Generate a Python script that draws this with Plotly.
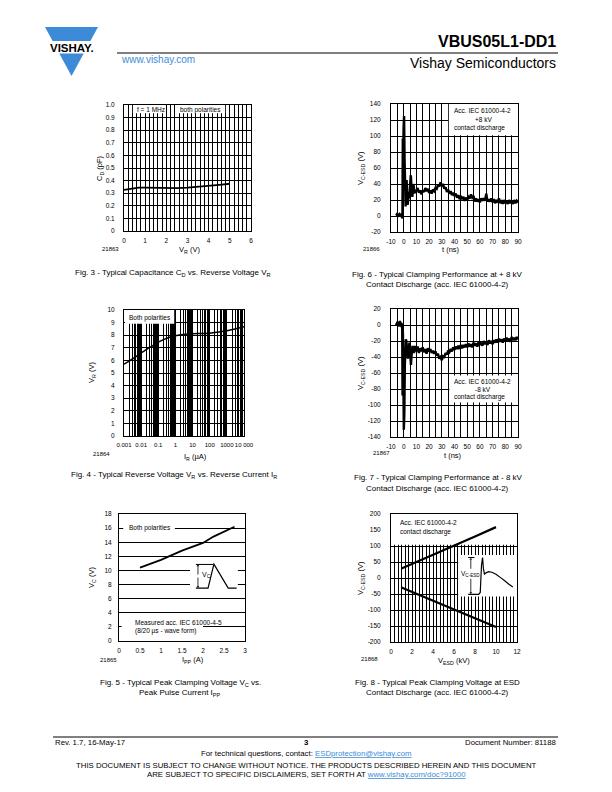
import plotly.graph_objects as go

W, H = 612, 792
FONT = "Liberation Sans, Arial, Helvetica, sans-serif"
BLUE = "#3d8bd8"
INK = "black"

# ---------------- data ----------------
# Fig. 3 - capacitance vs reverse voltage
fig3_vr = [0, 0.3, 0.7, 1.0, 1.5, 2.0, 2.5, 3.0, 3.5, 4.0, 4.5, 5.0]
fig3_cd = [0.326, 0.334, 0.344, 0.344, 0.341, 0.339, 0.340, 0.344, 0.350, 0.358, 0.366, 0.375]

# Fig. 4 - reverse voltage vs reverse current
fig4_ir = [0.001, 0.002, 0.005, 0.01, 0.02, 0.05, 0.1, 0.2, 0.5, 1, 2, 5, 10, 30, 100, 300, 1000, 3000, 10000]
fig4_vr = [5.7, 5.95, 6.3, 6.6, 6.85, 7.2, 7.45, 7.65, 7.85, 7.95, 8.03, 8.09, 8.12, 8.14, 8.16, 8.24, 8.35, 8.5, 8.67]

# Fig. 5 - peak clamping voltage vs peak pulse current
fig5_ipp = [0.5, 1.0, 1.5, 2.0, 2.25, 2.5, 2.75]
fig5_vc = [10.4, 11.5, 12.8, 13.9, 14.8, 15.5, 16.2]

# Fig. 6 - clamping at +8 kV
fig6_t = [-6, -5.5, -5, -4.5, -4, -3.5, -3, -2.5, -2, -1.5, -1.2, -1.0, -0.7, -0.4, -0.1, 0.3, 0.7, 1.1, 1.5,
          1.9, 2.3, 2.7, 3.1, 3.5, 3.9, 4.3, 4.7, 5.2, 5.6, 6.0, 6.4, 6.8, 7.2, 7.6, 8.0, 8.4, 8.8, 9.2, 9.6,
          10, 11, 12, 13, 14, 15, 16, 17, 18, 19, 20, 21, 22, 23, 24, 25, 26, 27, 28, 29,
          30, 31, 32, 33, 34, 35, 36, 37, 38, 39, 40, 41, 42, 43, 44, 45, 46, 47, 48, 49,
          50, 51, 52, 53, 54, 55, 56, 57, 58, 59, 60, 61, 62, 63, 64, 65, 66, 67, 68, 69,
          70, 71, 72, 73, 74, 75, 76, 77, 78, 79, 80, 81, 82, 83, 84, 85, 86, 87, 88, 89, 90]
fig6_v = [1, 2, 0, 3, 1, 2, 0, 3, 1, 2, -3, -2, 97, 55, 110, 125, 70, 25, 12,
          30, 45, 25, 14, 20, 30, 22, 35, 45, 51, 40, 27, 24, 33, 40, 36, 28, 32, 29, 33,
          31, 35, 29, 32, 27, 32, 30, 35, 31, 34, 29, 32, 28, 33, 31, 35, 34, 39, 37, 42,
          38, 40, 34, 36, 30, 33, 28, 31, 26, 29, 25, 28, 23, 26, 21, 25, 21, 24, 19, 23,
          20, 24, 22, 27, 23, 25, 18, 22, 18, 21, 17, 22, 19, 22, 19, 28, 18, 21, 18, 22,
          17, 21, 16, 20, 17, 22, 16, 20, 15, 20, 16, 19, 15, 20, 16, 19, 15, 20, 16, 19, 17]

# Fig. 7 - clamping at -8 kV
fig7_t = [-6, -5.5, -5, -4.5, -4, -3.5, -3, -2.5, -2, -1.5, -1.2, -0.9, -0.6, -0.3, 0.1, 0.5, 0.9, 1.3, 1.7,
          2.1, 2.5, 2.9, 3.3, 3.7, 4.1, 4.5, 4.9, 5.3, 5.7, 6.1, 6.5, 6.9, 7.3, 7.7, 8.1, 8.5, 8.9, 9.3, 9.7,
          10, 11, 12, 13, 14, 15, 16, 17, 18, 19, 20, 21, 22, 23, 24, 25, 26, 27, 28, 29,
          30, 31, 32, 33, 34, 35, 36, 37, 38, 39, 40, 41, 42, 43, 44, 45, 46, 47, 48, 49,
          50, 51, 52, 53, 54, 55, 56, 57, 58, 59, 60, 61, 62, 63, 64, 65, 66, 67, 68, 69,
          70, 71, 72, 73, 74, 75, 76, 77, 78, 79, 80, 81, 82, 83, 84, 85, 86, 87, 88, 89, 90]
fig7_v = [2, -1, 4, 0, 3, -2, 5, 1, 3, -3, 2, -88, -10, -60, -131, -110, -50, -22, -18,
          -20, -25, -35, -42, -38, -28, -22, -30, -45, -50, -40, -30, -26, -34, -28, -35, -30, -26, -32, -29,
          -33, -27, -35, -29, -33, -28, -34, -30, -36, -29, -33, -30, -35, -32, -36, -33, -38, -36, -42, -40,
          -44, -39, -40, -35, -37, -32, -34, -30, -33, -28, -31, -27, -30, -26, -30, -25, -29, -25, -28, -24,
          -28, -23, -27, -24, -28, -22, -26, -23, -27, -21, -25, -22, -26, -20, -24, -21, -25, -19, -23, -20,
          -24, -19, -22, -18, -22, -17, -21, -18, -22, -17, -20, -16, -20, -17, -21, -15, -19, -16, -19, -15, -18]

# Fig. 8 - peak clamping voltage vs ESD voltage
fig8_vesd_pos = [1, 2, 4, 6, 8, 10]
fig8_vc_pos = [30, 44, 73, 101, 130, 159]
fig8_vesd_neg = [1, 2, 4, 6, 8, 10]
fig8_vc_neg = [-30, -44, -72, -99, -126, -153]

# tick labels
fig3_yticks = [0, 0.1, 0.2, 0.3, 0.4, 0.5, 0.6, 0.7, 0.8, 0.9, 1.0]
fig3_yticktext = ["0", "0.1", "0.2", "0.3", "0.4", "0.5", "0.6", "0.7", "0.8", "0.9", "1.0"]
fig4_xticks = [0.001, 0.01, 0.1, 1, 10, 100, 1000, 10000]
fig4_xticktext = ["0.001", "0.01", "0.1", "1", "10", "100", "1000", "10 000"]
t_ticks = [-10, 0, 10, 20, 30, 40, 50, 60, 70, 80, 90]
t_ticktext = ["-10", "0", "10", "20", "30", "40", "50", "60", "70", "80", "90"]
fig6_yticks = [-20, 0, 20, 40, 60, 80, 100, 120, 140]
fig6_yticktext = ["-20", "0", "20", "40", "60", "80", "100", "120", "140"]
fig7_yticks = [-140, -120, -100, -80, -60, -40, -20, 0, 20]
fig7_yticktext = ["-140", "-120", "-100", "-80", "-60", "-40", "-20", "0", "20"]
fig8_yticks = [-200, -150, -100, -50, 0, 50, 100, 150, 200]
fig8_yticktext = ["-200", "-150", "-100", "-50", "0", "50", "100", "150", "200"]

# ---------------- helpers ----------------
def dx(a, b):
    return [a / W, b / W]

def dy(top, bottom):
    return [1 - bottom / H, 1 - top / H]

base = dict(showline=True, mirror=True, linecolor=INK, linewidth=1,
            showgrid=True, gridcolor=INK, gridwidth=0.7, zeroline=False, tickangle=0,
            ticks="", tickfont=dict(family=FONT, size=6.5, color=INK), fixedrange=True)

def minor(dt, w=0.7):
    return dict(dtick=dt, tick0=0, showgrid=True, gridcolor=INK, gridwidth=w, ticks="")

fig = go.Figure()

fig.add_trace(go.Scatter(x=fig3_vr, y=fig3_cd, mode="lines", line=dict(color=INK, width=1.8), xaxis="x", yaxis="y"))
fig.add_trace(go.Scatter(x=fig6_t, y=fig6_v, mode="lines", line=dict(color=INK, width=2.4), xaxis="x2", yaxis="y2"))
fig.add_trace(go.Scatter(x=fig4_ir, y=fig4_vr, mode="lines", line=dict(color=INK, width=1.5, shape="spline"), xaxis="x3", yaxis="y3"))
fig.add_trace(go.Scatter(x=fig7_t, y=fig7_v, mode="lines", line=dict(color=INK, width=2.4), xaxis="x4", yaxis="y4"))
fig.add_trace(go.Scatter(x=fig5_ipp, y=fig5_vc, mode="lines", line=dict(color=INK, width=1.8), xaxis="x5", yaxis="y5"))
fig.add_trace(go.Scatter(x=fig8_vesd_pos, y=fig8_vc_pos, mode="lines", line=dict(color=INK, width=2.2), xaxis="x6", yaxis="y6"))
fig.add_trace(go.Scatter(x=fig8_vesd_neg, y=fig8_vc_neg, mode="lines", line=dict(color=INK, width=2.2), xaxis="x6", yaxis="y6"))

lay = {}
# Fig 3
lay["xaxis"] = dict(base, domain=dx(124, 251), range=[0, 6], dtick=1, tick0=0, minor=minor(0.2), anchor="y", ticklabelstandoff=3)
lay["yaxis"] = dict(base, domain=dy(105, 231), range=[0, 1], tickvals=fig3_yticks, ticktext=fig3_yticktext, anchor="x", ticklabelstandoff=7)
# Fig 6
lay["xaxis2"] = dict(base, domain=dx(391, 518), range=[-10, 90], tickvals=t_ticks, ticktext=t_ticktext, minor=minor(5), anchor="y2", ticklabelstandoff=3)
lay["yaxis2"] = dict(base, domain=dy(104, 232), range=[-20, 140], tickvals=fig6_yticks, ticktext=fig6_yticktext, anchor="x2", ticklabelstandoff=8)
# Fig 4
lay["xaxis3"] = dict(base, domain=dx(124, 244), type="log", range=[-3, 4], tickvals=fig4_xticks, ticktext=fig4_xticktext,
                     tickfont=dict(family=FONT, size=6, color=INK),
                     minor=dict(dtick="D1", showgrid=True, gridcolor=INK, gridwidth=0.5, ticks=""), anchor="y3", ticklabelstandoff=3)
lay["yaxis3"] = dict(base, domain=dy(310, 436), range=[0, 10], dtick=1, anchor="x3", ticklabelstandoff=7)
# Fig 7
lay["xaxis4"] = dict(base, domain=dx(391, 518), range=[-10, 90], tickvals=t_ticks, ticktext=t_ticktext, minor=minor(5), anchor="y4", ticklabelstandoff=3)
lay["yaxis4"] = dict(base, domain=dy(309, 437), range=[-140, 20], tickvals=fig7_yticks, ticktext=fig7_yticktext, anchor="x4", ticklabelstandoff=8)
# Fig 5
lay["xaxis5"] = dict(base, domain=dx(119, 245), range=[0, 3], dtick=0.5, showgrid=False, anchor="y5", ticklabelstandoff=3)
lay["yaxis5"] = dict(base, domain=dy(514, 641), range=[0, 18], dtick=2, anchor="x5", ticklabelstandoff=5)
# Fig 8
lay["xaxis6"] = dict(base, domain=dx(391, 517), range=[0, 12], dtick=2, minor=minor(1 / 3), anchor="y6", ticklabelstandoff=3)
lay["yaxis6"] = dict(base, domain=dy(514, 642), range=[-200, 200], tickvals=fig8_yticks, ticktext=fig8_yticktext, anchor="x6", ticklabelstandoff=8)

shapes = []
ann = []

def wbox(xr, yr, x0, x1, y0, y1):
    shapes.append(dict(type="rect", xref=xr, yref=yr, x0=x0, x1=x1, y0=y0, y1=y1,
                       fillcolor="white", line=dict(width=0), layer="between"))

def seg(xr, yr, pts, width=1):
    path = "M " + " L ".join(f"{a},{b}" for a, b in pts)
    shapes.append(dict(type="path", xref=xr, yref=yr, path=path, line=dict(color=INK, width=width), layer="above"))

def txt(x, y, s, size=7, xanchor="center", color=INK, angle=0):
    ann.append(dict(x=x / W, y=1 - y / H, xref="paper", yref="paper", text=s, showarrow=False,
                    xanchor=xanchor, yanchor="middle", textangle=angle,
                    font=dict(family=FONT, size=size, color=color)))

def arrow(xr, yr, x, y, ax, ay):
    ann.append(dict(x=x, y=y, ax=ax, ay=ay, xref=xr, yref=yr, axref=xr, ayref=yr, text="",
                    showarrow=True, arrowhead=1, arrowsize=0.6, arrowwidth=0.8, arrowcolor=INK))

# white label boxes that interrupt the grid
wbox("x", "y", 0.42, 1.98, 0.935, 1.0)
wbox("x", "y", 2.42, 4.78, 0.935, 1.0)
wbox("x2", "y2", 35.5, 90, 101, 140)
wbox("x3", "y3", 0.00115, 0.85, 8.9, 10)
wbox("x4", "y4", 36, 90, -97, -63)
wbox("x5", "y5", 0.1, 1.33, 15.4, 16.8)
wbox("x5", "y5", 0.06, 2.0, 0.7, 3.4)
wbox("x5", "y5", 1.69, 2.83, 7.0, 11.8)
wbox("x6", "y6", 0, 12, 104, 200)
wbox("x6", "y6", 6.4, 12, -58, 72)

# inset sketch in Fig 5
seg("x5", "y5", [(1.83, 10.85), (2.24, 10.85)])
seg("x5", "y5", [(1.83, 7.5), (2.12, 7.5), (2.26, 10.9), (2.6, 7.5), (2.8, 7.5)], width=1.2)
arrow("x5", "y5", 1.88, 10.8, 1.88, 9.2)
arrow("x5", "y5", 1.88, 7.55, 1.88, 9.2)
ann.append(dict(x=1.93, y=9.4, xref="x5", yref="y5", text="V<sub>C</sub>", showarrow=False, xanchor="left",
                font=dict(family=FONT, size=7, color=INK)))

# inset sketch in Fig 8
seg("x6", "y6", [(7.35, 64), (7.95, 64)])
seg("x6", "y6", [(7.35, -51), (8.35, -51), (8.5, -45), (8.62, 40), (8.72, 64), (8.8, 30), (8.9, 12),
                 (9.05, 16), (9.3, 20), (9.6, 18), (10.0, 12), (10.4, 2), (10.8, -8), (11.2, -19), (11.6, -28)], width=1.2)
arrow("x6", "y6", 7.6, 62, 7.6, 24)
arrow("x6", "y6", 7.6, -49, 7.6, 2)
ann.append(dict(x=7.6, y=12, xref="x6", yref="y6", text="V<sub>C-ESD</sub>", showarrow=False,
                font=dict(family=FONT, size=6.5, color=INK)))

CAP = 8
TT = 7.5   # axis titles
BX = 6.5   # label-box texts
# ---- panel texts ----
# Fig 3
txt(100, 168, "C<sub>D</sub> (pF)", TT, angle=-90)
txt(189, 250, "V<sub>R</sub> (V)", TT)
txt(110, 249, "21863", 6)
txt(173, 273, "Fig. 3 - Typical Capacitance C<sub>D</sub> vs. Reverse Voltage V<sub>R</sub>", CAP)
txt(151, 110, "f = 1 MHz", BX)
txt(200, 110, "both polarities", BX)
# Fig 6
txt(361, 168, "V<sub>C-ESD</sub> (V)", TT, angle=-90)
txt(451, 250, "t (ns)", TT)
txt(371, 249, "21866", 6)
txt(437.5, 274, "Fig. 6 - Typical Clamping Performance at + 8 kV", CAP)
txt(437.5, 284, "Contact Discharge (acc. IEC 61000-4-2)", CAP)
txt(452, 111, "Acc. IEC 61000-4-2", BX, "left")
txt(483, 120, "+8 kV", BX)
txt(452, 128, "contact discharge", BX, "left")
# Fig 4
txt(92, 373, "V<sub>R</sub> (V)", TT, angle=-90)
txt(196, 457, "I<sub>R</sub> (µA)", TT)
txt(101, 454, "21864", 6)
txt(174, 475, "Fig. 4 - Typical Reverse Voltage V<sub>R</sub> vs. Reverse Current I<sub>R</sub>", CAP)
txt(150, 318, "Both polarities", BX)
# Fig 7
txt(361, 373, "V<sub>C-ESD</sub> (V)", TT, angle=-90)
txt(453, 455, "t (ns)", TT)
txt(381, 453, "21867", 6)
txt(438, 478, "Fig. 7 - Typical Clamping Performance at - 8 kV", CAP)
txt(437.5, 488, "Contact Discharge (acc. IEC 61000-4-2)", CAP)
txt(452, 381, "Acc. IEC 61000-4-2", BX, "left")
txt(483, 389, "-8 kV", BX)
txt(452, 397, "contact discharge", BX, "left")
# Fig 5
txt(92, 578, "V<sub>C</sub> (V)", TT, angle=-90)
txt(193, 660, "I<sub>PP</sub> (A)", TT)
txt(108, 660, "21865", 6)
txt(180, 682.5, "Fig. 5 - Typical Peak Clamping Voltage V<sub>C</sub> vs.", CAP)
txt(180, 693, "Peak Pulse Current I<sub>PP</sub>", CAP)
txt(150, 528, "Both polarities", BX)
txt(133, 622, "Measured acc. IEC 61000-4-5", BX, "left")
txt(133, 631, "(8/20 µs - wave form)", BX, "left")
# Fig 8
txt(361, 578, "V<sub>C-ESD</sub> (V)", TT, angle=-90)
txt(454, 661, "V<sub>ESD</sub> (kV)", TT)
txt(369, 659, "21868", 6)
txt(437.5, 682, "Fig. 8 - Typical Peak Clamping Voltage at ESD", CAP)
txt(437.5, 692, "Contact Discharge (acc. IEC 61000-4-2)", CAP)
txt(398, 522, "Acc. IEC 61000-4-2", BX, "left")
txt(398, 532, "contact discharge", BX, "left")

# ---- header ----
def P(x, y):
    return f"{x / W},{1 - y / H}"

shapes.append(dict(type="path", xref="paper", yref="paper",
                   path=f"M {P(45, 27)} L {P(98, 27)} L {P(90.4, 41)} L {P(52.6, 41)} Z",
                   fillcolor=BLUE, line=dict(width=0)))
shapes.append(dict(type="path", xref="paper", yref="paper",
                   path=f"M {P(59.3, 53.5)} L {P(83.7, 53.5)} L {P(71.5, 76)} Z",
                   fillcolor=BLUE, line=dict(width=0)))
txt(71.5, 47.5, "<b>VISHAY.</b>", 11.5)
shapes.append(dict(type="line", xref="paper", yref="paper", x0=117 / W, x1=558 / W, y0=1 - 53 / H, y1=1 - 53 / H,
                   line=dict(color=INK, width=1)))
txt(558, 42, "<b>VBUS05L1-DD1</b>", 16, "right")
txt(119, 59, "www.vishay.com", 10, "left", color=BLUE)
txt(558, 63, "Vishay Semiconductors", 14, "right")

# ---- footer ----
FT = 7.8
shapes.append(dict(type="line", xref="paper", yref="paper", x0=53 / W, x1=558 / W, y0=1 - 737 / H, y1=1 - 737 / H,
                   line=dict(color=INK, width=1)))
txt(53, 742, "Rev. 1.7, 16-May-17", FT, "left")
txt(306, 742, "<b>3</b>", FT)
txt(558, 742, "Document Number: 81188", FT, "right")
txt(306, 753, f"For technical questions, contact: <span style='color:{BLUE}'><u>ESDprotection@vishay.com</u></span>", FT)
txt(306, 765, "THIS DOCUMENT IS SUBJECT TO CHANGE WITHOUT NOTICE. THE PRODUCTS DESCRIBED HEREIN AND THIS DOCUMENT", FT)
txt(306, 774, f"ARE SUBJECT TO SPECIFIC DISCLAIMERS, SET FORTH AT <span style='color:{BLUE}'><u>www.vishay.com/doc?91000</u></span>", FT)

fig.update_layout(
    width=W, height=H, autosize=False, margin=dict(l=0, r=0, t=0, b=0, pad=0, autoexpand=False),
    paper_bgcolor="white", plot_bgcolor="white", showlegend=False,
    font=dict(family=FONT, size=7, color=INK),
    shapes=shapes, annotations=ann, **lay,
)

fig.write_html("out.html", config={"responsive": False, "displayModeBar": False},
               post_script="document.body.style.margin='0';document.body.style.padding='0';document.body.style.overflow='hidden';")
